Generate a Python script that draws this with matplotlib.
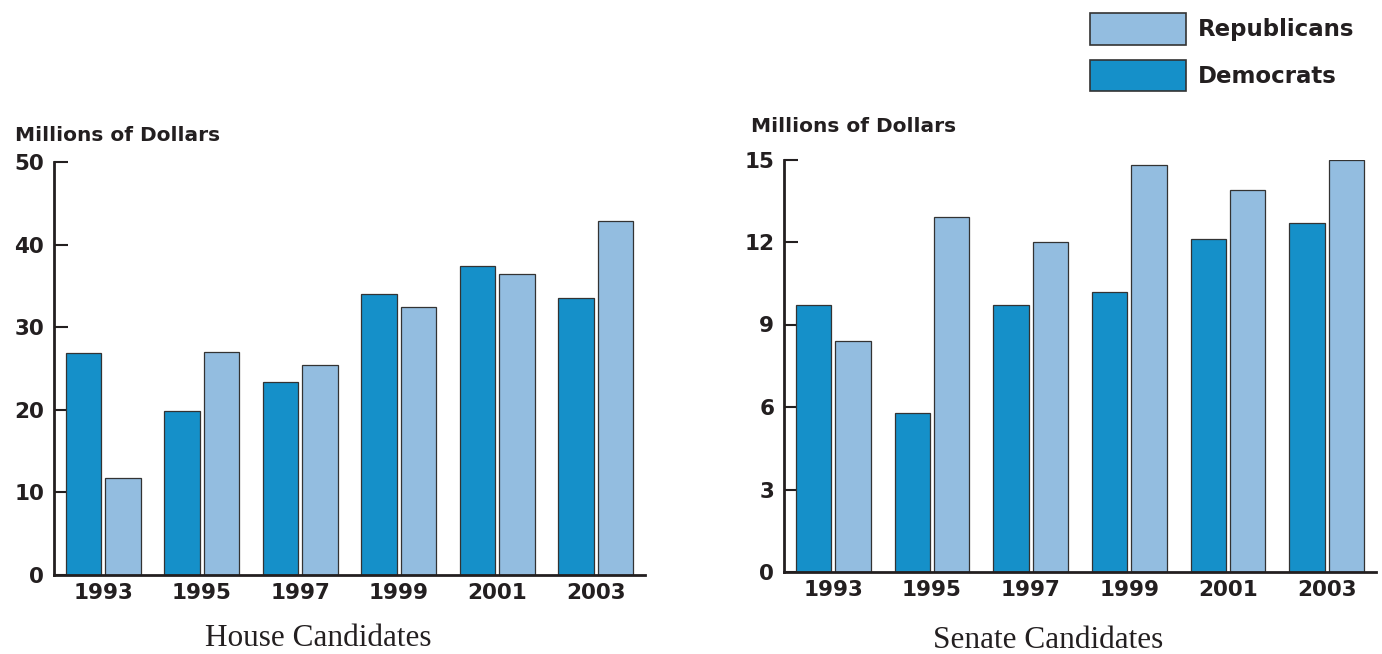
import matplotlib
matplotlib.use("Agg")
import matplotlib.pyplot as plt
from matplotlib.patches import Patch
import numpy as np

# data
years = ["1993", "1995", "1997", "1999", "2001", "2003"]
house_dem = [26.9, 19.8, 23.4, 34.0, 37.4, 33.5]
house_rep = [11.7, 27.0, 25.4, 32.4, 36.5, 42.9]
senate_dem = [9.7, 5.8, 9.7, 10.2, 12.1, 12.7]
senate_rep = [8.4, 12.9, 12.0, 14.8, 13.9, 15.0]
house_ticks = [0, 10, 20, 30, 40, 50]
senate_ticks = [0, 3, 6, 9, 12, 15]

DEM = "#1590c9"
REP = "#93bde0"
EDGE = "#333333"
INK = "#231f20"

W, H = 1382, 654
plt.rcParams['font.family'] = ['DejaVu Sans']


def draw_panel(ax, dem, rep, ticks, caption, cap_x, cap_y):
    x = np.arange(len(years))
    ax.bar(x - 0.2, dem, width=0.36, color=DEM, edgecolor=EDGE, linewidth=0.9, zorder=2)
    ax.bar(x + 0.2, rep, width=0.36, color=REP, edgecolor=EDGE, linewidth=0.9, zorder=2)
    ax.set_xlim(-0.5, 5.5)
    ax.set_ylim(0, ticks[-1])
    ax.set_xticks(x)
    ax.set_xticklabels(years, fontsize=15.5, fontweight='bold', color=INK)
    ax.set_yticks(ticks)
    ax.set_yticklabels([str(t) for t in ticks], fontsize=15.5, fontweight='bold', color=INK)
    ax.tick_params(axis='x', length=0, pad=6)
    ax.tick_params(axis='y', direction='in', length=10, width=1.5, color=INK, pad=7)
    for s in ['top', 'right']:
        ax.spines[s].set_visible(False)
    for s in ['left', 'bottom']:
        ax.spines[s].set_linewidth(2)
        ax.spines[s].set_color(INK)
        ax.spines[s].set_zorder(3)
    fig.text(cap_x / W, 1 - cap_y / H, caption, ha='center', va='baseline',
             family='Liberation Serif', fontsize=22.5, color=INK)


fig = plt.figure(figsize=(13.82, 6.54), dpi=100)
ax1 = fig.add_axes([54 / W, (H - 575) / H, (645 - 54) / W, (575 - 162) / H])
ax2 = fig.add_axes([784 / W, (H - 572) / H, (1376 - 784) / W, (572 - 159.5) / H])

draw_panel(ax1, house_dem, house_rep, house_ticks, "House Candidates", 318.5, 646)
draw_panel(ax2, senate_dem, senate_rep, senate_ticks, "Senate Candidates", 1048, 648)

fig.text(15 / W, 1 - 141 / H, "Millions of Dollars", ha='left', va='baseline',
         fontsize=14.5, fontweight='bold', color=INK)
fig.text(751 / W, 1 - 132.5 / H, "Millions of Dollars", ha='left', va='baseline',
         fontsize=14.5, fontweight='bold', color=INK)

handles = [Patch(facecolor=REP, edgecolor=EDGE, linewidth=1.2, label="Republicans"),
           Patch(facecolor=DEM, edgecolor=EDGE, linewidth=1.2, label="Democrats")]
leg = fig.legend(handles=handles, loc='upper left', bbox_to_anchor=(1090 / W, 1 - 13 / H),
                 frameon=False, borderpad=0, borderaxespad=0,
                 handlelength=4.2, handleheight=1.75, labelspacing=0.66, handletextpad=0.52,
                 prop={'weight': 'bold', 'size': 16.5})
for t in leg.get_texts():
    t.set_color(INK)

fig.savefig("out.png", dpi=100)
